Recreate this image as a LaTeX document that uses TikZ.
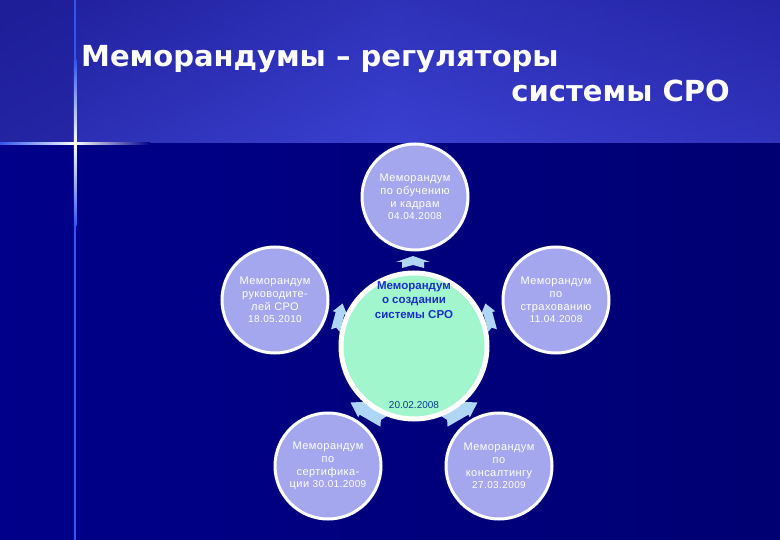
\documentclass[tikz,border=0pt]{standalone}
\usepackage{fontspec}
\setmainfont{Liberation Sans}
\newfontfamily\titlefont{DejaVu Sans}
\newfontfamily\spacedfont[LetterSpace=4]{Liberation Sans}
\definecolor{navy}{HTML}{00008A}
\definecolor{navyR}{HTML}{000072}
\definecolor{hdrL}{HTML}{1E1E98}
\definecolor{hdrM}{HTML}{3A40D0}
\definecolor{hdrR}{HTML}{2A2AB0}
\definecolor{lav}{HTML}{A4A6EE}
\definecolor{mint}{HTML}{A2F6CE}
\definecolor{arrowc}{HTML}{B0D6F6}
\definecolor{ctext}{HTML}{1A2EC4}
\definecolor{cdate}{HTML}{0A3A8A}
\definecolor{glow}{HTML}{2E56F0}
\newcommand\cycarrow[4]{\fill[arrowc] (-#1/2,-#2) -- (#1/2-#4,-#2) -- (#1/2-#4,-#3) -- (#1/2,0) -- (#1/2-#4,#3) -- (#1/2-#4,#2) -- (-#1/2,#2) -- (-#1/2+3,0) -- cycle;}
\tikzset{
  outer/.style={circle, fill=lav, draw=white, line width=3pt, minimum size=106pt, inner sep=0pt,
    align=center, text=white, font=\spacedfont\fontsize{11}{12.8}\selectfont},
  hub/.style={circle, fill=mint, draw=white, line width=5pt, minimum size=146pt, inner sep=0pt},
  datef/.style={font=\fontsize{10}{12}\selectfont},
  titletext/.style={text=white, font=\titlefont\bfseries\fontsize{29}{34}\selectfont, inner sep=0pt}
}
\begin{document}
\begin{tikzpicture}[x=1pt,y=-1pt]
\useasboundingbox (0,0) rectangle (780,540);
% background
\shade[left color=navy, right color=navyR] (0,0) rectangle (780,540);
\shade[top color=hdrL, bottom color=hdrM] (0,0) rectangle (780,143);
\shade[left color=hdrL, right color=hdrR, middle color=hdrM, opacity=0.6] (0,0) rectangle (780,143);
\fill[hdrL, opacity=0.5] (0,0) rectangle (75,143);
% cross lines
\fill[glow] (74.3,0) rectangle (76,540);
\shade[top color=glow, bottom color=glow, middle color=white] (73.8,60) rectangle (76.5,226);
\shade[left color=glow, right color=navy, middle color=white] (0,142.2) rectangle (150,144.6);
\shade[left color=glow, right color=white] (0,142.2) rectangle (75,144.6);
\fill[white] (75.2,143.4) circle (2.2);
% title
\node[titletext, anchor=base west] (t1) at (81,67) {Меморандумы – регуляторы};
\node[titletext, anchor=base east] (t2) at (730,102) {системы СРО};
% arrows
\begin{scope}[shift={(413,262)}, rotate=90]\cycarrow{12}{11}{17}{6}\end{scope}
\begin{scope}[shift={(339,317)}, rotate=75]\cycarrow{28}{4.5}{7.5}{10}\end{scope}
\begin{scope}[shift={(489,317)}, rotate=105]\cycarrow{28}{4.5}{7.5}{10}\end{scope}
\begin{scope}[shift={(367,412)}, rotate=150]\cycarrow{38}{6}{9}{14}\end{scope}
\begin{scope}[shift={(461,412)}, rotate=30]\cycarrow{38}{6}{9}{14}\end{scope}
% circles
\node[hub] (hub) at (414,346) {};
\node[outer] (top) at (415,197) {Меморандум\\по обучению\\и кадрам\\{\fontsize{10}{12}\selectfont 04.04.2008}};
\node[outer] (left) at (275,300) {Меморандум\\руководите-\\лей СРО\\{\fontsize{10}{12}\selectfont 18.05.2010}};
\node[outer] (right) at (556,300) {Меморандум\\по\\страхованию\\{\fontsize{10}{12}\selectfont 11.04.2008}};
\node[outer] (bl) at (328,466) {Меморандум\\по\\сертифика-\\ции {\fontsize{10}{12}\selectfont 30.01.2009}};
\node[outer] (br) at (499,466) {Меморандум\\по\\консалтингу\\{\fontsize{10}{12}\selectfont 27.03.2009}};
% hub texts
\node[align=center, text=ctext, font=\bfseries\fontsize{11.5}{14.5}\selectfont, inner sep=0pt] (hubt) at (414,300) {Меморандум\\о создании\\системы СРО};
\node[datef, text=cdate, inner sep=0pt] (hubd) at (414,405) {20.02.2008};
\end{tikzpicture}
\end{document}
